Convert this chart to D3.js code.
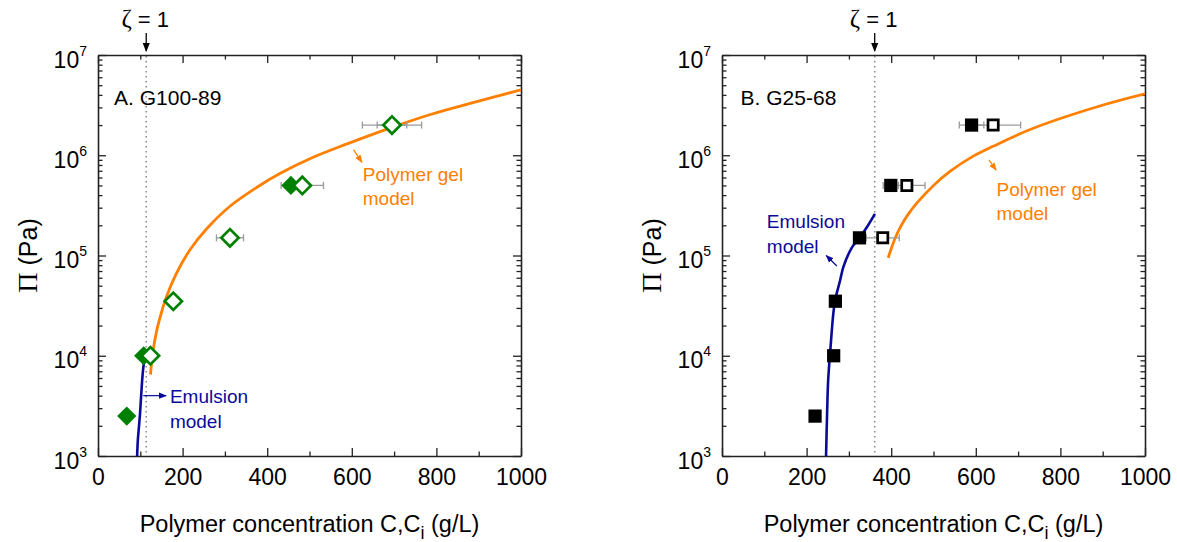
<!DOCTYPE html>
<html>
<head>
<meta charset="utf-8">
<script src="https://cdn.jsdelivr.net/npm/d3@7"></script>
<style>
  body { margin: 0; background: #fff; }
  svg { display: block; font-family: "Liberation Sans", Arial, sans-serif; }
</style>
</head>
<body>
<svg id="chart" width="1177" height="542"></svg>
<script>
// axis ticks
const xMajor = [0, 200, 400, 600, 800, 1000];
const xMinor = [100, 300, 500, 700, 900];
const yDecades = [1e3, 1e4, 1e5, 1e6, 1e7];

// Panel A: G100-89 (diamonds)
const aFilledC = [68, 108, 456];
const aFilledPi = [2.5e3, 1e4, 5e5];
const aOpenC = [124, 178, 312, 483, 695];
const aOpenPi = [1e4, 3.5e4, 1.5e5, 5e5, 2e6];
const aErrC = [312, 483, 695, 695];
const aErrPi = [1.5e5, 5e5, 2e6, 2e6];
const aErrHalf = [32, 50, 70, 35];
const aGelC = [124, 130, 139, 150, 161, 186, 218, 257, 312, 376, 431, 510, 589, 695, 786, 904, 1000];
const aGelPi = [6.5e3, 1.1e4, 1.8e4, 2.7e4, 3.8e4, 6.7e4, 1.15e5, 1.85e5, 3.1e5, 4.8e5, 6.6e5, 9.6e5, 1.3e6, 1.9e6, 2.55e6, 3.5e6, 4.5e6];
const aEmuC = [92.5, 94, 97, 99.5, 102, 105.5, 108.5, 111];
const aEmuPi = [1e3, 1.4e3, 2e3, 2.7e3, 4e3, 6.5e3, 8.5e3, 9.8e3];
const aZeta = 114;

// Panel B: G25-68 (squares)
const bFilledC = [220, 264, 268, 325, 399, 590];
const bFilledPi = [2.5e3, 1e4, 3.5e4, 1.5e5, 5e5, 2e6];
const bOpenC = [380, 437, 641];
const bOpenPi = [1.5e5, 5e5, 2e6];
const bErrC = [380, 399, 437, 590, 641];
const bErrPi = [1.5e5, 5e5, 5e5, 2e6, 2e6];
const bErrHalf = [39, 18, 43, 29, 65];
const bGelC = [393, 400, 410, 421, 440, 460, 500, 539, 594, 641, 736, 893, 1000];
const bGelPi = [9.5e4, 1.17e5, 1.51e5, 1.9e5, 2.57e5, 3.31e5, 5.0e5, 6.9e5, 9.8e5, 1.23e6, 1.86e6, 3.1e6, 4.1e6];
const bEmuC = [246, 248.5, 251, 256.5, 263, 267.5, 279, 287, 307, 325, 342, 361.5];
const bEmuPi = [1e3, 2.7e3, 5.7e3, 1.2e4, 2.6e4, 3.6e4, 5.6e4, 7.7e4, 1.2e5, 1.5e5, 1.9e5, 2.6e5];
const bZeta = 361;

const ORANGE = "#ff8000";
const NAVY = "#0a0a9a";
const GREEN = "#008000";
const ERR_GREY = "#9a9a9a";

const plotW = 423, plotH = 401, plotTop = 55;

const panels = [
  {
    left: 98, clip: "clipA", label: "A. G100-89", labelAt: [38, 3.2e6], zeta: aZeta,
    shape: d3.symbolSquare, rotate: 45, filledSize: 185, openSize: 150, color: GREEN,
    filled: d3.zip(aFilledC, aFilledPi), open: d3.zip(aOpenC, aOpenPi),
    err: d3.zip(aErrC, aErrPi, aErrHalf),
    gel: d3.zip(aGelC, aGelPi), emu: d3.zip(aEmuC, aEmuPi),
    gelText: [626, 5.5e5], gelArrow: [[604, 1.14e6], [624, 8.5e5]],
    emuText: [170, 3.35e3], emuArrow: [[107, 4e3], [161, 4e3]]
  },
  {
    left: 722, clip: "clipB", label: "B. G25-68", labelAt: [44, 3.2e6], zeta: bZeta,
    shape: d3.symbolSquare, rotate: 0, filledSize: 175, openSize: 105, color: "#000",
    filled: d3.zip(bFilledC, bFilledPi), open: d3.zip(bOpenC, bOpenPi),
    err: d3.zip(bErrC, bErrPi, bErrHalf),
    gel: d3.zip(bGelC, bGelPi), emu: d3.zip(bEmuC, bEmuPi),
    gelText: [649, 3.9e5], gelArrow: [[631, 9e5], [648, 7.1e5]],
    emuText: [106, 1.86e5], emuArrow: [[271.5, 7.85e4], [246.5, 1e5]]
  }
];

const svg = d3.select("#chart");
const defs = svg.append("defs");

function addMarker(id, color, size) {
  defs.append("marker")
    .attr("id", id)
    .attr("viewBox", "0 0 10 10")
    .attr("refX", 9).attr("refY", 5)
    .attr("markerWidth", size).attr("markerHeight", size)
    .attr("markerUnits", "userSpaceOnUse")
    .attr("orient", "auto")
    .append("path")
    .attr("d", "M0,1L10,5L0,9z")
    .attr("fill", color);
}
addMarker("arrBlack", "#000", 9);
addMarker("arrOrange", ORANGE, 8);
addMarker("arrNavy", NAVY, 8);

panels.forEach(p => {
  const x = d3.scaleLinear().domain([0, 1000]).range([0, plotW]);
  const y = d3.scaleLog().domain([1e3, 1e7]).range([plotH, 0]);

  defs.append("clipPath").attr("id", p.clip)
    .append("rect").attr("width", plotW).attr("height", plotH);

  const g = svg.append("g").attr("transform", `translate(${p.left},${plotTop})`);

  // zeta = 1 dotted line
  g.append("line")
    .attr("x1", x(p.zeta)).attr("x2", x(p.zeta))
    .attr("y1", 1).attr("y2", plotH)
    .attr("stroke", "#8c8c8c").attr("stroke-width", 1.6)
    .attr("stroke-dasharray", "1.6,3.4");

  // axes
  const axisStyle = sel => {
    sel.select(".domain").attr("stroke", "#222").attr("stroke-width", 1.6);
    sel.selectAll(".tick line").attr("stroke", "#222").attr("stroke-width", 1.3);
  };

  const xb = g.append("g").attr("transform", `translate(0,${plotH})`)
    .call(d3.axisBottom(x).tickValues(xMajor).tickSize(-8).tickSizeOuter(0)
      .tickPadding(13).tickFormat(d3.format("d")))
    .call(axisStyle);
  xb.selectAll(".tick text").attr("font-size", 23).attr("fill", "#000")
    .attr("font-family", "'Liberation Sans', Arial, sans-serif");
  g.append("g").attr("transform", `translate(0,${plotH})`)
    .call(d3.axisBottom(x).tickValues(xMinor).tickSize(-4.5).tickFormat(""))
    .call(axisStyle).select(".domain").remove();

  g.append("g")
    .call(d3.axisTop(x).tickValues(xMajor).tickSize(-8).tickSizeOuter(0).tickFormat(""))
    .call(axisStyle);
  g.append("g")
    .call(d3.axisTop(x).tickValues(xMinor).tickSize(-4.5).tickFormat(""))
    .call(axisStyle).select(".domain").remove();

  const minorY = y.ticks().filter(v => !yDecades.includes(v));
  const yl = g.append("g")
    .call(d3.axisLeft(y).tickValues(yDecades).tickSize(-8).tickSizeOuter(0).tickFormat(""))
    .call(axisStyle);
  g.append("g")
    .call(d3.axisLeft(y).tickValues(minorY).tickSize(-4.5).tickFormat(""))
    .call(axisStyle).select(".domain").remove();
  g.append("g").attr("transform", `translate(${plotW},0)`)
    .call(d3.axisRight(y).tickValues(yDecades).tickSize(-8).tickSizeOuter(0).tickFormat(""))
    .call(axisStyle);
  g.append("g").attr("transform", `translate(${plotW},0)`)
    .call(d3.axisRight(y).tickValues(minorY).tickSize(-4.5).tickFormat(""))
    .call(axisStyle).select(".domain").remove();

  // y tick labels as 10^n
  yl.selectAll(".tick text").each(function(d) {
    const t = d3.select(this).attr("x", -11).attr("y", 12).attr("dy", null)
      .attr("text-anchor", "end").attr("fill", "#000").text(null)
      .attr("font-family", "'Liberation Sans', Arial, sans-serif");
    t.append("tspan").attr("font-size", 23).text("10");
    t.append("tspan").attr("font-size", 14).attr("dy", -12).text(Math.round(Math.log10(d)));
  });

  // axis titles
  const xt = g.append("text")
    .attr("x", plotW / 2).attr("y", 477)
    .attr("text-anchor", "middle").attr("font-size", 23.5);
  xt.append("tspan").text("Polymer concentration C,C");
  xt.append("tspan").attr("font-size", 18).attr("dy", 7).text("i");
  xt.append("tspan").attr("dy", -7).text(" (g/L)");

  const yt = g.append("text")
    .attr("transform", `translate(-61,${plotH / 2}) rotate(-90)`)
    .attr("text-anchor", "middle").attr("font-size", 25);
  yt.append("tspan").attr("font-family", "'Liberation Serif', 'Times New Roman', serif")
    .attr("font-size", 28).text("\u03A0");
  yt.append("tspan").text(" (Pa)");

  // zeta = 1 label and arrow
  const zt = g.append("text")
    .attr("x", x(p.zeta) - 1).attr("y", -28)
    .attr("text-anchor", "middle").attr("font-size", 22);
  zt.append("tspan").attr("font-family", "'Liberation Serif', 'Times New Roman', serif")
    .attr("font-size", 25).text("\u03B6");
  zt.append("tspan").text(" = 1");
  g.append("line")
    .attr("x1", x(p.zeta)).attr("x2", x(p.zeta))
    .attr("y1", -22).attr("y2", -4)
    .attr("stroke", "#000").attr("stroke-width", 1.3)
    .attr("marker-end", "url(#arrBlack)");

  // panel label
  g.append("text")
    .attr("x", x(p.labelAt[0])).attr("y", y(p.labelAt[1]))
    .attr("font-size", 21).text(p.label);

  // model curves
  const line = d3.line().x(d => x(d[0])).y(d => y(d[1])).curve(d3.curveCatmullRom.alpha(0.5));
  const curves = g.append("g").attr("clip-path", `url(#${p.clip})`);
  curves.append("path").datum(p.emu).attr("d", line)
    .attr("fill", "none").attr("stroke", NAVY).attr("stroke-width", 2.6);
  curves.append("path").datum(p.gel).attr("d", line)
    .attr("fill", "none").attr("stroke", ORANGE).attr("stroke-width", 2.8);

  // error bars
  const eb = g.append("g").attr("stroke", ERR_GREY).attr("stroke-width", 1.3);
  p.err.forEach(([c, v, h]) => {
    eb.append("line").attr("x1", x(c - h)).attr("x2", x(c + h)).attr("y1", y(v)).attr("y2", y(v));
    [c - h, c + h].forEach(e => {
      eb.append("line").attr("x1", x(e)).attr("x2", x(e)).attr("y1", y(v) - 3.5).attr("y2", y(v) + 3.5);
    });
  });

  // data points
  const sym = s => d3.symbol().type(p.shape).size(s)();
  g.append("g").selectAll("path").data(p.filled).join("path")
    .attr("transform", d => `translate(${x(d[0])},${y(d[1])}) rotate(${p.rotate})`)
    .attr("d", sym(p.filledSize))
    .attr("fill", p.color);
  g.append("g").selectAll("path").data(p.open).join("path")
    .attr("transform", d => `translate(${x(d[0])},${y(d[1])}) rotate(${p.rotate})`)
    .attr("d", sym(p.openSize))
    .attr("fill", "#fff").attr("stroke", p.color).attr("stroke-width", 2.7);

  // annotations
  const gelT = g.append("text")
    .attr("x", x(p.gelText[0])).attr("y", y(p.gelText[1]))
    .attr("font-size", 19).attr("fill", ORANGE);
  gelT.append("tspan").text("Polymer gel");
  gelT.append("tspan").attr("x", x(p.gelText[0])).attr("dy", 24).text("model");
  g.append("line")
    .attr("x1", x(p.gelArrow[0][0])).attr("y1", y(p.gelArrow[0][1]))
    .attr("x2", x(p.gelArrow[1][0])).attr("y2", y(p.gelArrow[1][1]))
    .attr("stroke", ORANGE).attr("stroke-width", 1.2)
    .attr("marker-end", "url(#arrOrange)");

  const emuT = g.append("text")
    .attr("x", x(p.emuText[0])).attr("y", y(p.emuText[1]))
    .attr("font-size", 19).attr("fill", NAVY);
  emuT.append("tspan").text("Emulsion");
  emuT.append("tspan").attr("x", x(p.emuText[0])).attr("dy", 25).text("model");
  g.append("line")
    .attr("x1", x(p.emuArrow[0][0])).attr("y1", y(p.emuArrow[0][1]))
    .attr("x2", x(p.emuArrow[1][0])).attr("y2", y(p.emuArrow[1][1]))
    .attr("stroke", NAVY).attr("stroke-width", 1.2)
    .attr("marker-end", "url(#arrNavy)");
});
</script>
</body>
</html>
